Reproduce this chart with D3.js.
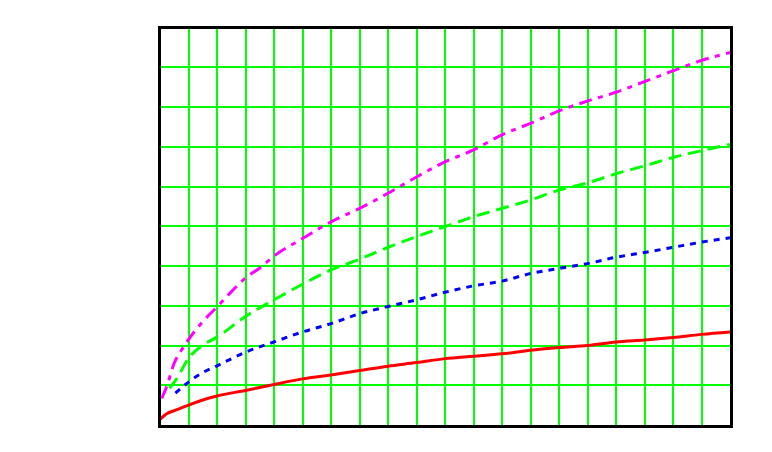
<!DOCTYPE html>
<html>
<head>
<meta charset="utf-8">
<script src="https://cdn.jsdelivr.net/npm/d3@7/dist/d3.min.js"></script>
<style>
  html, body { margin: 0; padding: 0; background: #ffffff; }
  svg { display: block; }
</style>
</head>
<body>
<div id="chart"></div>
<script>
// ---- data ----
const xTicks = d3.range(0, 21);          // vertical grid every unit, 0..20
const yTicks = d3.range(0, 11);          // horizontal grid every unit, 0..10

const redX   = [0, 0.25, 0.5, 1, 1.5, 2, 3, 4, 5, 6, 7, 8, 9, 10, 11, 12, 13, 14, 15, 16, 17, 18, 19, 20];
const redY   = [0.14, 0.29, 0.36, 0.50, 0.63, 0.73, 0.87, 1.02, 1.16, 1.26, 1.37, 1.48, 1.57, 1.67, 1.73, 1.79, 1.88, 1.95, 2.00, 2.09, 2.14, 2.20, 2.28, 2.34];

const blueX  = [0.54, 1, 1.5, 2, 3, 4, 5, 6, 7, 8, 9, 10, 11, 12, 13, 14, 15, 16, 17, 18, 19, 20];
const blueY  = [0.80, 1.08, 1.32, 1.49, 1.83, 2.09, 2.34, 2.55, 2.80, 2.98, 3.15, 3.34, 3.50, 3.62, 3.81, 3.94, 4.06, 4.22, 4.34, 4.47, 4.60, 4.71];

const greenX = [0.33, 0.57, 1, 1.5, 2, 3, 4, 5, 6, 7, 8, 9, 10, 11, 12, 13, 14, 15, 16, 17, 18, 19, 20];
const greenY = [0.92, 1.15, 1.68, 2.01, 2.21, 2.73, 3.15, 3.54, 3.90, 4.17, 4.47, 4.74, 4.99, 5.24, 5.45, 5.66, 5.91, 6.09, 6.32, 6.52, 6.73, 6.90, 7.06];

const magX   = [0.06, 0.25, 0.5, 0.75, 1, 1.5, 2, 2.5, 3, 3.5, 4, 5, 6, 7, 8, 9, 10, 11, 12, 13, 14, 15, 16, 17, 18, 19, 20];
const magY   = [0.67, 1.00, 1.56, 1.88, 2.15, 2.60, 2.97, 3.35, 3.70, 3.95, 4.25, 4.69, 5.11, 5.45, 5.83, 6.24, 6.62, 6.92, 7.30, 7.59, 7.90, 8.15, 8.37, 8.64, 8.91, 9.17, 9.37];

const seriesList = [
  { name: "red",     xs: redX,   ys: redY,   color: "#ff0000", dash: null },
  { name: "blue",    xs: blueX,  ys: blueY,  color: "#0000ff", dash: "6,6" },
  { name: "green",   xs: greenX, ys: greenY, color: "#00ff00", dash: "13,7" },
  { name: "magenta", xs: magX,   ys: magY,   color: "#ff00ff", dash: "13,6.5,5,6.5" }
];

(function () {
  // ---- layout ----
  const W = 772, H = 452;
  const pLeft = 160, pRight = 730, pTop = 27.5, pBottom = 425;

  const x = d3.scaleLinear().domain([0, 20]).range([pLeft, pRight]);
  const y = d3.scaleLinear().domain([0, 10]).range([pBottom, pTop]);

  const svg = d3.select("#chart").append("svg")
    .attr("width", W).attr("height", H);

  svg.append("rect").attr("width", W).attr("height", H).attr("fill", "#ffffff");

  // grid
  const grid = svg.append("g").attr("shape-rendering", "crispEdges");
  grid.selectAll("line.v").data(xTicks.slice(1, -1)).enter().append("line")
    .attr("class", "v")
    .attr("x1", d => Math.round(x(d))).attr("x2", d => Math.round(x(d)))
    .attr("y1", pTop).attr("y2", pBottom)
    .attr("stroke", "#00ff00").attr("stroke-width", 1.6);
  grid.selectAll("line.h").data(yTicks.slice(1, -1)).enter().append("line")
    .attr("class", "h")
    .attr("y1", d => Math.round(y(d))).attr("y2", d => Math.round(y(d)))
    .attr("x1", pLeft).attr("x2", pRight)
    .attr("stroke", "#00ff00").attr("stroke-width", 1.6);

  // series
  const line = d3.line()
    .x(d => x(d[0]))
    .y(d => y(d[1]))
    .curve(d3.curveMonotoneX);

  seriesList.forEach(s => {
    const pts = s.xs.map((v, i) => [v, s.ys[i]]);
    const p = svg.append("path")
      .datum(pts)
      .attr("d", line)
      .attr("fill", "none")
      .attr("stroke", s.color)
      .attr("stroke-width", 3)
      .attr("stroke-linecap", "butt");
    if (s.dash) p.attr("stroke-dasharray", s.dash);
  });

  // frame
  svg.append("rect")
    .attr("x", 159.5).attr("y", 27.5)
    .attr("width", 571.5).attr("height", 398.5)
    .attr("fill", "none")
    .attr("stroke", "#000000")
    .attr("stroke-width", 3)
    .attr("shape-rendering", "crispEdges");
})();
</script>
</body>
</html>
